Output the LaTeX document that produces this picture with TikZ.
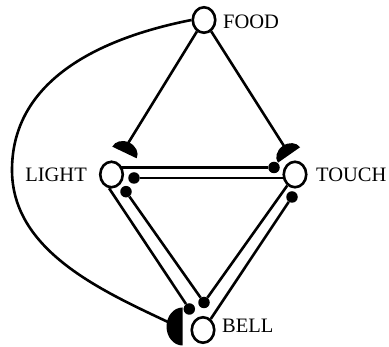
\documentclass[tikz,border=0pt]{standalone}
\usepackage{fontspec}
\setmainfont{Liberation Serif}
\usetikzlibrary{shapes.geometric,backgrounds}
\begin{document}
\begin{tikzpicture}[x=1pt,y=-1pt,
  cell/.style={ellipse,draw,fill=white,line width=2.6pt,minimum width=22.5pt,minimum height=25.5pt,inner sep=0pt},
  lbl/.style={inner sep=0pt,font=\fontsize{20.5}{24}\selectfont},
  knob/.style={circle,fill=black,inner sep=0pt,minimum size=11.5pt},
  wire/.style={line width=2.6pt},
  syn/.style={fill=black}]
\useasboundingbox (0,0) rectangle (389,347);
% cells
\node[cell] (food) at (204,20) {};
\node[cell] (light) at (111.5,174.5) {};
\node[cell] (touch) at (295,174.5) {};
\node[cell] (bell) at (203,330) {};
% labels
\node[lbl,anchor=base west] (foodl) at (223,28.5) {FOOD};
\node[lbl,anchor=base east] (lightl) at (87,181.5) {LIGHT};
\node[lbl,anchor=base west] (touchl) at (316,181.5) {TOUCH};
\node[lbl,anchor=base west] (belll) at (222,333) {BELL};
% inhibitory knobs
\node[knob] (dLT) at (274,167.5) {};
\node[knob] (dTL) at (134,178) {};
\node[knob] (dBL) at (126,191.7) {};
\node[knob] (dTB) at (204,302.5) {};
\node[knob] (dLB) at (189.3,309) {};
\node[knob] (dBT) at (292,197) {};
% excitatory synapse ends
\coordinate (hl) at (127,145);
\coordinate (ht) at (284,146);
\coordinate (hb) at (168,322);
\begin{pgfonlayer}{background}
\fill[syn,shift={(124.5,152.5)},rotate=-25.5] (-13.5,0) arc[start angle=180,end angle=360,x radius=13.5,y radius=11] -- cycle;
\fill[syn,shift={(289,155)},rotate=35] (-13.5,0) arc[start angle=180,end angle=360,x radius=13.5,y radius=11] -- cycle;
\fill[syn] (182.5,307.5) arc[start angle=270,end angle=90,x radius=16,y radius=19] -- cycle;
\draw[wire] (food) -- (hl);
\draw[wire] (food) -- (ht);
\draw[wire] (food.180) .. controls (100,38) and (12,80) .. (12,170) .. controls (12,250) and (100,290) .. (hb);
\draw[wire] (light.center |- dLT) -- (dLT);
\draw[wire] (touch.center |- dTL) -- (dTL);
\draw[wire] (light.260) -- (dLB);
\draw[wire] (dTB) -- (dBL);
\draw[wire] (touch.235) -- (dTB);
\draw[wire] (bell.55) -- (dBT);
\end{pgfonlayer}
\end{tikzpicture}
\end{document}
